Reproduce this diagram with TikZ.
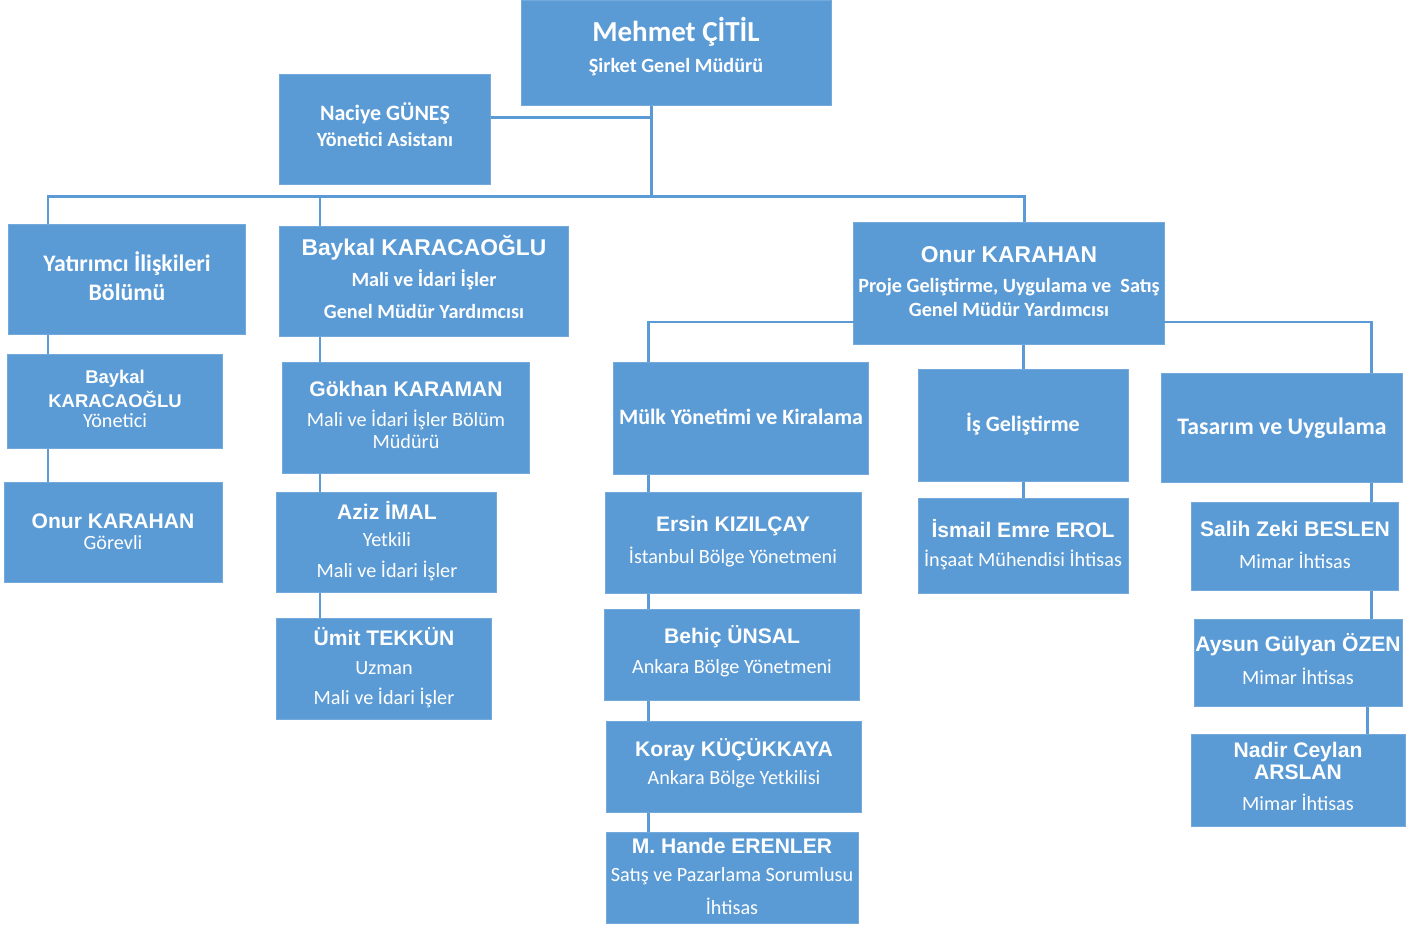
\documentclass[tikz,border=0pt]{standalone}
\usepackage{fontspec}
\setmainfont{Carlito}
\newfontfamily\arial{Liberation Sans}
\usepackage{xcolor}
\usepackage{tikz}
\definecolor{kutumavi}{HTML}{5B9BD5}
\def\px{0.5669pt}
\tikzset{
kutu/.style={rectangle, fill=kutumavi, draw=kutumavi!85!white, line width=0.6pt, inner sep=0pt, outer sep=0pt},
baglanti/.style={draw=kutumavi, line width=1.7pt},
yazi/.style={text=white, inner sep=0pt},
ust/.style={yazi, font=\bfseries\fontsize{16.5}{19}\selectfont},
baslik/.style={yazi, font=\bfseries\fontsize{13.5}{16}\selectfont},
basliki/.style={yazi, font=\bfseries\fontsize{12.5}{15}\selectfont},
adb/.style={yazi, font=\arial\bfseries\fontsize{13}{15}\selectfont},
ad/.style={yazi, font=\arial\bfseries\fontsize{12}{14}\selectfont},
adk/.style={yazi, font=\arial\bfseries\fontsize{10.5}{12}\selectfont},
rolb/.style={yazi, font=\bfseries\fontsize{11.5}{13}\selectfont},
rol/.style={yazi, font=\fontsize{11.5}{13}\selectfont}
}
\begin{document}
\begin{tikzpicture}[x=0.02cm,y=-0.02cm]
\useasboundingbox (0,0) rectangle (1427,928);

% kutular: ad/x1/y1/x2/y2
\foreach \ad/\xa/\ya/\xb/\yb in {ceo/521/0/832/106, naciye/279/74/491/185,
yatirim/8/224/246/335, baykal/279/226/569/337, onur/853/222/1165/345,
baykaly/7/354/223/449, onurg/4/482/223/583,
gokhan/282/362/530/474, aziz/276/492/497/593, umit/276/618/492/720,
mulk/613/362/869/475, isgel/918/369/1129/482, tasarim/1161/373/1403/483,
ersin/605/492/862/594, behic/604/609/860/701, koray/606/721/862/813, hande/606/832/859/924,
ismail/918/498/1129/594,
salih/1191/502/1399/591, aysun/1194/619/1403/707, nadir/1191/734/1406/827} {
\node[kutu, minimum width={(\xb-\xa)*\px}, minimum height={(\yb-\ya)*\px}] (\ad) at ({(\xa+\xb)/2},{(\ya+\yb)/2}) {};
}

% yazilar
\foreach \x/\y/\stil/\metin [count=\i] in {
676/32/ust/Mehmet ÇİTİL, 676/67/rolb/Şirket Genel Müdürü,
385/113/basliki/Naciye GÜNEŞ, 385/139/rolb/Yönetici Asistanı,
127/264/baslik/Yatırımcı İlişkileri, 127/292/baslik/Bölümü,
424/248/adb/Baykal KARACAOĞLU, 424/280/rolb/Mali ve İdari İşler, 424/311/rolb/Genel Müdür Yardımcısı,
1009/255/adb/Onur KARAHAN, 1009/287/rolb/{Proje Geliştirme, Uygulama ve\ \ Satış}, 1009/309/rolb/Genel Müdür Yardımcısı,
115/379/adk/Baykal, 115/399/adk/KARACAOĞLU, 115/421/rol/Yönetici,
113/521/ad/Onur KARAHAN, 113/543/rol/Görevli,
406/389/ad/Gökhan KARAMAN, 406/420/rol/Mali ve İdari İşler Bölüm, 406/442/rol/Müdürü,
387/510/ad/Aziz İMAL, 387/540/rol/Yetkili, 387/571/rol/Mali ve İdari İşler,
384/637/ad/Ümit TEKKÜN, 384/668/rol/Uzman, 384/698/rol/Mali ve İdari İşler,
741/417/basliki/Mülk Yönetimi ve Kiralama,
1023/424/basliki/İş Geliştirme,
1282/428/baslik/Tasarım ve Uygulama,
733/526/ad/Ersin KIZILÇAY, 733/557/rol/İstanbul Bölge Yönetmeni,
1023/529/ad/İsmail Emre EROL, 1023/560/rol/İnşaat Mühendisi İhtisas,
1295/529/ad/Salih Zeki BESLEN, 1295/560/rol/Mimar İhtisas,
732/637/ad/Behiç ÜNSAL, 732/668/rol/Ankara Bölge Yönetmeni,
1298/645/ad/Aysun Gülyan ÖZEN, 1298/676/rol/Mimar İhtisas,
734/750/ad/Koray KÜÇÜKKAYA, 734/779/rol/Ankara Bölge Yetkilisi,
1298/752/ad/Nadir Ceylan, 1298/772/ad/ARSLAN, 1298/802/rol/Mimar İhtisas,
732/846/ad/M. Hande ERENLER, 732/876/rol/Satış ve Pazarlama Sorumlusu, 732/906/rol/İhtisas} {
\node[\stil] (y\i) at (\x,\y) {\metin};
}

% baglantilar
\coordinate (hatsol) at (48,197);
\coordinate (hatsag) at (1024,197);
\coordinate (d0) at (651,197);
\coordinate (d1) at (320,197);
\coordinate (ks) at (648,322);
\coordinate (ksag) at (1371,322);
\draw[baglanti] (hatsol |- yatirim.north) -- (hatsol) -- (hatsag) -- (hatsag |- onur.north);
\draw[baglanti] (d0 |- ceo.south) -- (d0);
\draw[baglanti] ([yshift=7pt]naciye.east) -- ([yshift=7pt]naciye.east -| d0);
\draw[baglanti] (d1) -- (d1 |- baykal.north);
% yatirimci iliskileri
\draw[baglanti] (yatirim.south -| hatsol) -- (hatsol |- baykaly.north);
\draw[baglanti] (baykaly.south -| hatsol) -- (hatsol |- onurg.north);
% mali ve idari isler
\draw[baglanti] (baykal.south -| d1) -- (d1 |- gokhan.north);
\draw[baglanti] (gokhan.south -| d1) -- (d1 |- aziz.north);
\draw[baglanti] (aziz.south -| d1) -- (d1 |- umit.north);
% proje gelistirme
\draw[baglanti] (ks -| onur.west) -- (ks) -- (ks |- mulk.north);
\draw[baglanti] (ksag -| onur.east) -- (ksag) -- (ksag |- tasarim.north);
\draw[baglanti] (onur.south -| isgel.north) -- (isgel.north);
\draw[baglanti] (isgel.south) -- (ismail.north);
\draw[baglanti] (mulk.south -| ks) -- (ks |- ersin.north);
\draw[baglanti] (ersin.south -| ks) -- (ks |- behic.north);
\draw[baglanti] (behic.south -| ks) -- (ks |- koray.north);
\draw[baglanti] (koray.south -| ks) -- (ks |- hande.north);
\draw[baglanti] (tasarim.south -| ksag) -- (ksag |- salih.north);
\draw[baglanti] (salih.south -| ksag) -- (ksag |- aysun.north);
\draw[baglanti] ([xshift=-2pt]aysun.south -| ksag) -- ([xshift=-2pt]ksag |- nadir.north);

\end{tikzpicture}
\end{document}
